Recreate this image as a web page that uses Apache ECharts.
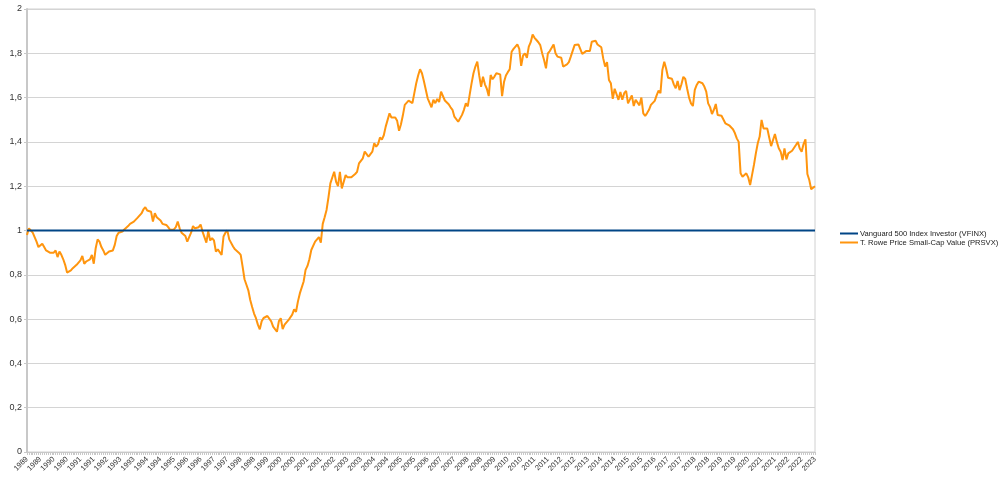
<!DOCTYPE html>
<html>
<head>
<meta charset="utf-8">
<script src="https://cdn.jsdelivr.net/npm/echarts@6/dist/echarts.min.js"></script>
<style>
html,body{margin:0;padding:0;background:#fff;}
#chart{width:1000px;height:486px;}
</style>
</head>
<body>
<div id="chart"></div>
<script>
// Monthly observations, Jan 1989 .. Jun 2023
const startYear = 1989;
const monthCount = 414;
const categories = [];
for (let k = 0; k < monthCount; k++) {
  const y = startYear + Math.floor(k / 12);
  const m = (k % 12) + 1;
  categories.push(y + '-' + (m < 10 ? '0' + m : m));
}

const seriesNames = ['Vanguard 500 Index Investor (VFINX)', 'T. Rowe Price Small-Cap Value (PRSVX)'];

const vfinx = [
1,1,1,1,1,1,1,1,1,1,1,1,
1,1,1,1,1,1,1,1,1,1,1,1,
1,1,1,1,1,1,1,1,1,1,1,1,
1,1,1,1,1,1,1,1,1,1,1,1,
1,1,1,1,1,1,1,1,1,1,1,1,
1,1,1,1,1,1,1,1,1,1,1,1,
1,1,1,1,1,1,1,1,1,1,1,1,
1,1,1,1,1,1,1,1,1,1,1,1,
1,1,1,1,1,1,1,1,1,1,1,1,
1,1,1,1,1,1,1,1,1,1,1,1,
1,1,1,1,1,1,1,1,1,1,1,1,
1,1,1,1,1,1,1,1,1,1,1,1,
1,1,1,1,1,1,1,1,1,1,1,1,
1,1,1,1,1,1,1,1,1,1,1,1,
1,1,1,1,1,1,1,1,1,1,1,1,
1,1,1,1,1,1,1,1,1,1,1,1,
1,1,1,1,1,1,1,1,1,1,1,1,
1,1,1,1,1,1,1,1,1,1,1,1,
1,1,1,1,1,1,1,1,1,1,1,1,
1,1,1,1,1,1,1,1,1,1,1,1,
1,1,1,1,1,1,1,1,1,1,1,1,
1,1,1,1,1,1,1,1,1,1,1,1,
1,1,1,1,1,1,1,1,1,1,1,1,
1,1,1,1,1,1,1,1,1,1,1,1,
1,1,1,1,1,1,1,1,1,1,1,1,
1,1,1,1,1,1,1,1,1,1,1,1,
1,1,1,1,1,1,1,1,1,1,1,1,
1,1,1,1,1,1,1,1,1,1,1,1,
1,1,1,1,1,1,1,1,1,1,1,1,
1,1,1,1,1,1,1,1,1,1,1,1,
1,1,1,1,1,1,1,1,1,1,1,1,
1,1,1,1,1,1,1,1,1,1,1,1,
1,1,1,1,1,1,1,1,1,1,1,1,
1,1,1,1,1,1,1,1,1,1,1,1,
1,1,1,1,1,1
];

const prsvx = [
0.98,1.01,1.01,0.99,0.97,0.95,0.925,0.93,0.94,0.925,0.91,0.905,
0.90,0.905,0.90,0.91,0.88,0.905,0.89,0.87,0.845,0.81,0.81,0.82,
0.83,0.835,0.845,0.855,0.865,0.885,0.85,0.86,0.865,0.87,0.89,0.85,
0.92,0.96,0.95,0.925,0.91,0.89,0.895,0.905,0.905,0.91,0.935,0.975,
0.99,0.99,0.995,1.005,1.01,1.02,1.03,1.035,1.04,1.045,1.058,1.065,
1.077,1.095,1.105,1.09,1.085,1.085,1.04,1.078,1.06,1.065,1.045,1.03,
1.03,1.025,1.015,1.003,0.998,1.005,1.015,1.04,1.01,0.99,0.985,0.975,
0.95,0.97,0.99,1.02,1.01,1.01,1.015,1.027,0.995,0.97,0.945,0.997,
0.955,0.965,0.955,0.905,0.915,0.91,0.89,0.973,0.99,1.0,0.96,0.955,
0.928,0.915,0.91,0.9,0.89,0.837,0.78,0.755,0.73,0.686,0.655,0.625,
0.604,0.575,0.554,0.59,0.605,0.61,0.614,0.605,0.59,0.566,0.56,0.543,
0.59,0.604,0.555,0.575,0.585,0.595,0.604,0.62,0.644,0.633,0.68,0.716,
0.716,0.77,0.822,0.84,0.87,0.912,0.915,0.95,0.96,0.97,0.945,1.03,
1.06,1.093,1.15,1.213,1.205,1.265,1.22,1.2,1.265,1.19,1.195,1.25,
1.24,1.232,1.24,1.246,1.255,1.265,1.303,1.31,1.326,1.356,1.345,1.333,
1.345,1.356,1.394,1.378,1.39,1.42,1.41,1.43,1.469,1.468,1.529,1.51,
1.51,1.51,1.495,1.45,1.48,1.52,1.567,1.575,1.586,1.585,1.575,1.62,
1.665,1.70,1.728,1.71,1.675,1.68,1.597,1.59,1.556,1.59,1.575,1.594,
1.58,1.627,1.625,1.587,1.594,1.57,1.556,1.545,1.514,1.52,1.491,1.495,
1.522,1.545,1.574,1.56,1.612,1.664,1.71,1.74,1.762,1.70,1.649,1.694,
1.66,1.64,1.607,1.702,1.683,1.695,1.71,1.713,1.705,1.607,1.67,1.70,
1.715,1.728,1.807,1.82,1.83,1.84,1.82,1.743,1.79,1.80,1.78,1.83,
1.85,1.885,1.87,1.86,1.85,1.837,1.80,1.77,1.732,1.80,1.81,1.805,
1.84,1.80,1.785,1.79,1.78,1.74,1.745,1.75,1.76,1.785,1.79,1.837,
1.845,1.84,1.84,1.797,1.805,1.81,1.815,1.81,1.852,1.85,1.857,1.84,
1.835,1.827,1.777,1.74,1.76,1.68,1.665,1.594,1.64,1.642,1.59,1.625,
1.59,1.62,1.63,1.574,1.574,1.61,1.562,1.59,1.59,1.565,1.60,1.529,
1.517,1.53,1.545,1.567,1.575,1.585,1.61,1.631,1.62,1.725,1.762,1.73,
1.69,1.688,1.685,1.66,1.642,1.675,1.634,1.66,1.694,1.684,1.64,1.60,
1.574,1.562,1.635,1.657,1.672,1.668,1.665,1.65,1.627,1.574,1.557,1.526,
1.545,1.571,1.521,1.517,1.518,1.515,1.484,1.49,1.475,1.466,1.457,1.44,
1.416,1.40,1.258,1.243,1.25,1.258,1.24,1.205,1.21,1.296,1.348,1.394,
1.424,1.499,1.461,1.457,1.46,1.42,1.381,1.385,1.436,1.40,1.371,1.356,
1.318,1.371,1.321,1.348,1.355,1.36,1.363,1.386,1.40,1.37,1.356,1.39,
1.412,1.255,1.228,1.186,1.193,1.20
];

const yTicks = [0, 0.2, 0.4, 0.6, 0.8, 1, 1.2, 1.4, 1.6, 1.8, 2];

const chart = echarts.init(document.getElementById('chart'), null, {renderer: 'canvas'});
const font = 'Liberation Sans';
chart.setOption({
  animation: false,
  backgroundColor: '#ffffff',
  grid: {left: 27, right: 185, top: 9, bottom: 34, show: true, borderColor: '#d0d0d0', borderWidth: 1},
  legend: {
    orient: 'vertical',
    left: 840,
    top: 229,
    padding: 0,
    itemWidth: 18,
    itemHeight: 2,
    itemGap: 0,
    icon: 'rect',
    textStyle: {fontFamily: font, fontSize: 7.6, color: '#222', lineHeight: 9, padding: [0, 0, 0, -3]},
    data: seriesNames
  },
  xAxis: {
    type: 'category',
    data: categories,
    boundaryGap: false,
    axisLine: {lineStyle: {color: '#c8c8c8', width: 1}},
    axisTick: {show: true, interval: 0, length: 3, lineStyle: {color: '#c8c8c8'}},
    axisLabel: {
      interval: 6,
      rotate: 45,
      fontFamily: font,
      fontSize: 7.5,
      color: '#333',
      margin: 6,
      formatter: v => v.slice(0, 4)
    },
    splitLine: {show: false}
  },
  yAxis: {
    type: 'value',
    min: 0,
    max: 2,
    interval: 0.2,
    axisLine: {show: true, lineStyle: {color: '#c8c8c8', width: 2}},
    axisTick: {show: true, length: 3, lineStyle: {color: '#c8c8c8'}},
    axisLabel: {
      fontFamily: font,
      fontSize: 9,
      color: '#333',
      margin: 5,
      formatter: v => {
        const t = yTicks.find(q => Math.abs(q - v) < 1e-9);
        return String(Math.round((t !== undefined ? t : v) * 10) / 10).replace('.', ',');
      }
    },
    splitLine: {lineStyle: {color: '#d4d4d4', width: 1}}
  },
  series: [
    {
      name: seriesNames[0],
      type: 'line',
      data: vfinx,
      showSymbol: false,
      symbol: 'none',
      lineStyle: {color: '#004586', width: 2},
      itemStyle: {color: '#004586'},
      z: 3
    },
    {
      name: seriesNames[1],
      type: 'line',
      data: prsvx,
      showSymbol: false,
      symbol: 'none',
      lineStyle: {color: '#ff950e', width: 2},
      itemStyle: {color: '#ff950e'},
      z: 2
    }
  ]
});
</script>
</body>
</html>
